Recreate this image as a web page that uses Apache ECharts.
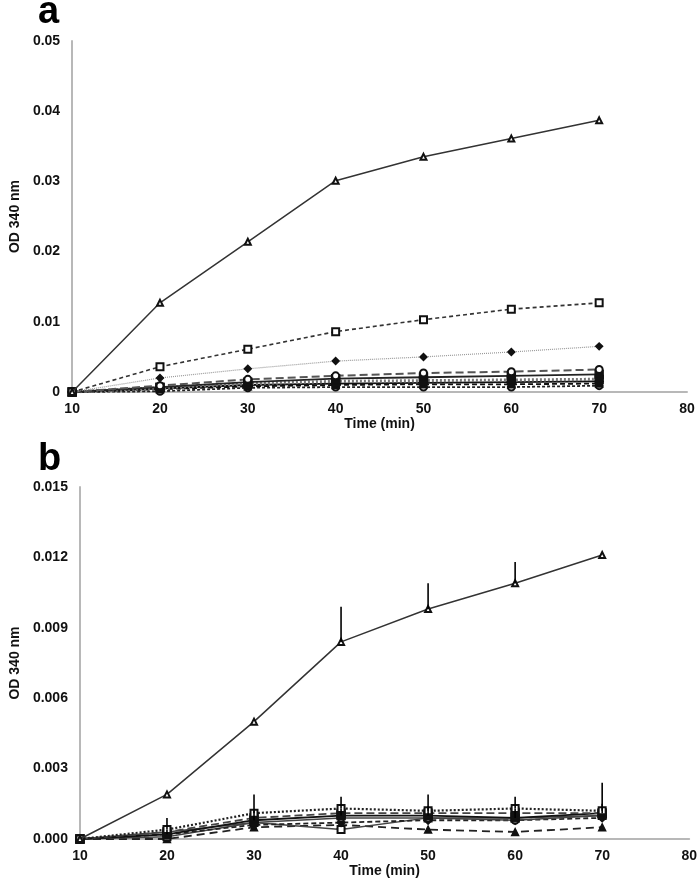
<!DOCTYPE html>
<html>
<head>
<meta charset="utf-8">
<script src="https://cdn.jsdelivr.net/npm/echarts@6/dist/echarts.min.js"></script>
<style>html,body{margin:0;padding:0;background:#fff}#c{width:700px;height:883px}</style>
</head>
<body>
<div id="c"></div>
<script>
// Time points (min)
const times = [10, 20, 30, 40, 50, 60, 70];
const xTicks = [10, 20, 30, 40, 50, 60, 70, 80];
const yTicksA = [0, 0.01, 0.02, 0.03, 0.04, 0.05];
const yTicksB = [0, 0.003, 0.006, 0.009, 0.012, 0.015];

// Panel a series values (OD 340 nm)
const a1 = [0, 0.0127, 0.0214, 0.0301, 0.0335, 0.0361, 0.0387];
const a2 = [0, 0.0036, 0.0061, 0.0086, 0.0103, 0.0118, 0.0127];
const a3 = [0, 0.0020, 0.0033, 0.0044, 0.0050, 0.0057, 0.0065];
const a4 = [0, 0.0009, 0.0018, 0.0023, 0.0027, 0.0029, 0.0032];
const a5 = [0, 0.0007, 0.0014, 0.0019, 0.0021, 0.0023, 0.0025];
const a6 = [0, 0.0006, 0.0012, 0.0015, 0.0016, 0.0017, 0.0018];
const a7 = [0, 0.0005, 0.0010, 0.0012, 0.0013, 0.0014, 0.0015];
const a8 = [0, 0.0004, 0.0008, 0.0010, 0.0011, 0.0011, 0.0012];
const a9 = [0, 0.0001, 0.0006, 0.0007, 0.0007, 0.0007, 0.0009];

// Panel b series values and upper error bars
const b1 = [0, 0.0019, 0.0050, 0.0084, 0.0098, 0.0109, 0.0121];
const b1Err = [0, 0, 0, 0.0015, 0.0011, 0.0009, 0];
const b2 = [0, 0.0004, 0.0011, 0.0013, 0.0012, 0.0013, 0.0012];
const b2Err = [0, 0.0005, 0.0008, 0.0005, 0.0007, 0.0005, 0.0012];
const b3 = [0, 0.0003, 0.0009, 0.0011, 0.0011, 0.0011, 0.0011];
const b4 = [0, 0.0002, 0.0008, 0.0010, 0.0010, 0.0009, 0.0011];
const b4Err = [0, 0.0002, 0.0004, 0.0003, 0.0004, 0.0004, 0.0004];
const b5 = [0, 0.0003, 0.0007, 0.0009, 0.0009, 0.0008, 0.0010];
const b6 = [0, 0.0002, 0.0006, 0.0007, 0.0008, 0.0008, 0.0009];
const b7 = [0, 0.0001, 0.0007, 0.0004, 0.0009, 0.0009, 0.0010];
const b8 = [0, 0.0000, 0.0005, 0.0006, 0.0004, 0.0003, 0.0005];

const FONT = '"Liberation Sans", Arial, sans-serif';
const pairs = v => times.map((t, i) => [t, v[i]]);

function line(gi, vals, symbol, size, lineType, color, width, z) {
  return {
    type: 'line', xAxisIndex: gi, yAxisIndex: gi, data: pairs(vals),
    symbol: symbol, symbolSize: size, showAllSymbol: true, z: z || 2,
    lineStyle: { color: color, width: width, type: lineType },
    itemStyle: { color: '#111', borderColor: '#111', borderWidth: 1.4 },
    animation: false
  };
}
function errBars(gi, vals, errs) {
  return {
    type: 'custom', xAxisIndex: gi, yAxisIndex: gi, z: 5, animation: false,
    data: times.map((t, i) => [t, vals[i], vals[i] + errs[i]]),
    renderItem: (params, api) => {
      const p0 = api.coord([api.value(0), api.value(1)]);
      const p1 = api.coord([api.value(0), api.value(2)]);
      return { type: 'line', shape: { x1: p0[0], y1: p0[1], x2: p1[0], y2: p1[1] },
               style: { stroke: '#000', lineWidth: 1.6 } };
    }
  };
}

const axisLbl = { fontFamily: FONT, fontWeight: 'bold', fontSize: 14, color: '#111' };
function xAx(gi) {
  return { type: 'value', gridIndex: gi, min: 10, max: 80, interval: 10,
    name: 'Time (min)', nameLocation: 'middle', nameGap: 24,
    nameTextStyle: { fontFamily: FONT, fontWeight: 'bold', fontSize: 14, color: '#111' },
    axisLine: { lineStyle: { color: '#b8b8b8', width: 2 } }, axisTick: { show: false },
    splitLine: { show: false }, axisLabel: Object.assign({ margin: 10 }, axisLbl) };
}
function yAx(gi, max, interval, fmt, gap) {
  return { type: 'value', gridIndex: gi, min: 0, max: max, interval: interval,
    name: 'OD 340 nm', nameLocation: 'middle', nameGap: gap,
    nameTextStyle: { fontFamily: FONT, fontWeight: 'bold', fontSize: 14, color: '#111' },
    axisLine: { show: true, lineStyle: { color: '#b8b8b8', width: 2 } }, axisTick: { show: false },
    splitLine: { show: false }, axisLabel: Object.assign({ margin: 12, formatter: fmt }, axisLbl) };
}

const chart = echarts.init(document.getElementById('c'), null, { renderer: 'canvas' });
chart.setOption({
  backgroundColor: '#fff',
  animation: false,
  graphic: [
    { type: 'text', left: 38, top: -6, style: { text: 'a', font: 'bold 38px "Liberation Sans", Arial', fill: '#000' } },
    { type: 'text', left: 38, top: 441, style: { text: 'b', font: 'bold 38px "Liberation Sans", Arial', fill: '#000' } }
  ],
  grid: [
    { left: 65, right: 13, top: 41, height: 351 },
    { left: 70, right: 10, top: 487, height: 352 }
  ],
  xAxis: [xAx(0), xAx(1)],
  yAxis: [
    yAx(0, 0.05, 0.01, v => v === 0 ? '0' : v.toFixed(2), 46),
    yAx(1, 0.015, 0.003, v => v.toFixed(3), 56)
  ],
  series: [
    line(0, a9, 'emptyCircle', 7, [3, 2], '#222', 1.8),
    line(0, a8, 'triangle', 7, [5, 3], '#111', 1.8),
    line(0, a7, 'diamond', 8, 'solid', '#111', 1.8),
    line(0, a6, 'rect', 8, [2, 2], '#777', 3.2),
    line(0, a5, 'rect', 8, 'solid', '#222', 1.8),
    line(0, a4, 'emptyCircle', 7, [8, 4], '#555', 2),
    line(0, a3, 'diamond', 7, [1, 1], '#999', 1.2),
    line(0, a2, 'emptyRect', 7, [4, 3], '#333', 1.6),
    line(0, a1, 'emptyTriangle', 6, 'solid', '#333', 1.5, 3),

    line(1, b8, 'triangle', 7, [8, 5], '#222', 1.8),
    line(1, b7, 'emptyRect', 7, 'solid', '#444', 1.5),
    line(1, b6, 'diamond', 8, [5, 3], '#222', 1.8),
    line(1, b5, 'emptyCircle', 7, 'solid', '#444', 1.5),
    line(1, b4, 'rect', 8, 'solid', '#111', 1.8),
    line(1, b3, 'rect', 8, [8, 4], '#444', 1.8),
    line(1, b2, 'emptyRect', 7, [2, 2], '#222', 2.2),
    line(1, b1, 'emptyTriangle', 6, 'solid', '#333', 1.5, 3),
    errBars(1, b1, b1Err),
    errBars(1, b2, b2Err),
    errBars(1, b4, b4Err)
  ]
});
</script>
</body>
</html>
